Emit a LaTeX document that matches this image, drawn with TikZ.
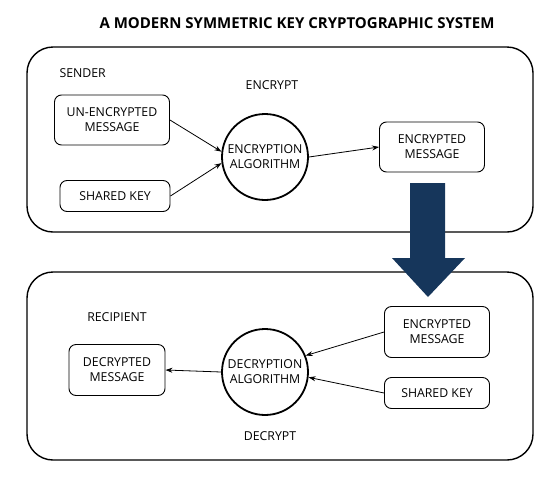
\documentclass[tikz,border=0pt]{standalone}
\usepackage{fontspec}
\setmainfont{Open Sans}
\usetikzlibrary{arrows.meta}
\definecolor{navy}{HTML}{16365B}
\begin{document}
\begin{tikzpicture}[x=1pt,y=-1pt,
  lbl/.style={font=\fontsize{12.3}{15}\selectfont},
  msgbox/.style={draw,rounded corners=7pt,line width=0.9pt,align=center,lbl,inner sep=0pt},
  algo/.style={draw,circle,line width=1.8pt,align=center,lbl,minimum size=86pt,inner sep=0pt},
  panel/.style={draw,rounded corners=26pt,line width=1.4pt},
  conn/.style={-{Stealth[length=7pt,width=5pt]},line width=0.8pt}]
\useasboundingbox (0,0) rectangle (552,480);
\node[font=\fontsize{15}{18}\selectfont\bfseries] (title) at (297,23) {A MODERN SYMMETRIC KEY CRYPTOGRAPHIC SYSTEM};
% panels
\draw[panel] (27,47) rectangle (533,232);
\draw[panel] (27,272) rectangle (533,460);
% sender
\node[lbl,anchor=west] (sender) at (56,73) {SENDER};
\node[lbl] (enc) at (272,85) {ENCRYPT};
\node[msgbox,minimum width=115pt,minimum height=50pt] (plain) at (112,120) {UN-ENCRYPTED\\MESSAGE};
\node[msgbox,minimum width=110pt,minimum height=31pt] (key1) at (115,196) {SHARED KEY};
\node[algo] (ea) at (265,157) {ENCRYPTION\\ALGORITHM};
\node[msgbox,minimum width=105pt,minimum height=50pt] (cipher1) at (432,147) {ENCRYPTED\\MESSAGE};
\draw[conn] (plain.east) -- (ea.173);
\draw[conn] (key1.east) -- (ea.188);
\draw[conn] (ea.east) -- (cipher1.west);
% recipient
\node[lbl] (recip) at (117,317) {RECIPIENT};
\node[lbl] (dec) at (270,436) {DECRYPT};
\node[msgbox,minimum width=96pt,minimum height=51pt] (plain2) at (117,370) {DECRYPTED\\MESSAGE};
\node[algo] (da) at (265,372) {DECRYPTION\\ALGORITHM};
\node[msgbox,minimum width=105pt,minimum height=51pt] (cipher2) at (437,332) {ENCRYPTED\\MESSAGE};
\node[msgbox,minimum width=105pt,minimum height=31pt] (key2) at (437,393) {SHARED KEY};
\draw[conn] (cipher2.west) -- (da.22);
\draw[conn] (key2.west) -- (da.-7);
\draw[conn] (da.west) -- (plain2.east);
% big arrow
\fill[navy] (410,183) -- (445,183) -- (445,258) -- (465,258) -- (428,297) -- (392,258) -- (410,258) -- cycle;
\end{tikzpicture}
\end{document}
